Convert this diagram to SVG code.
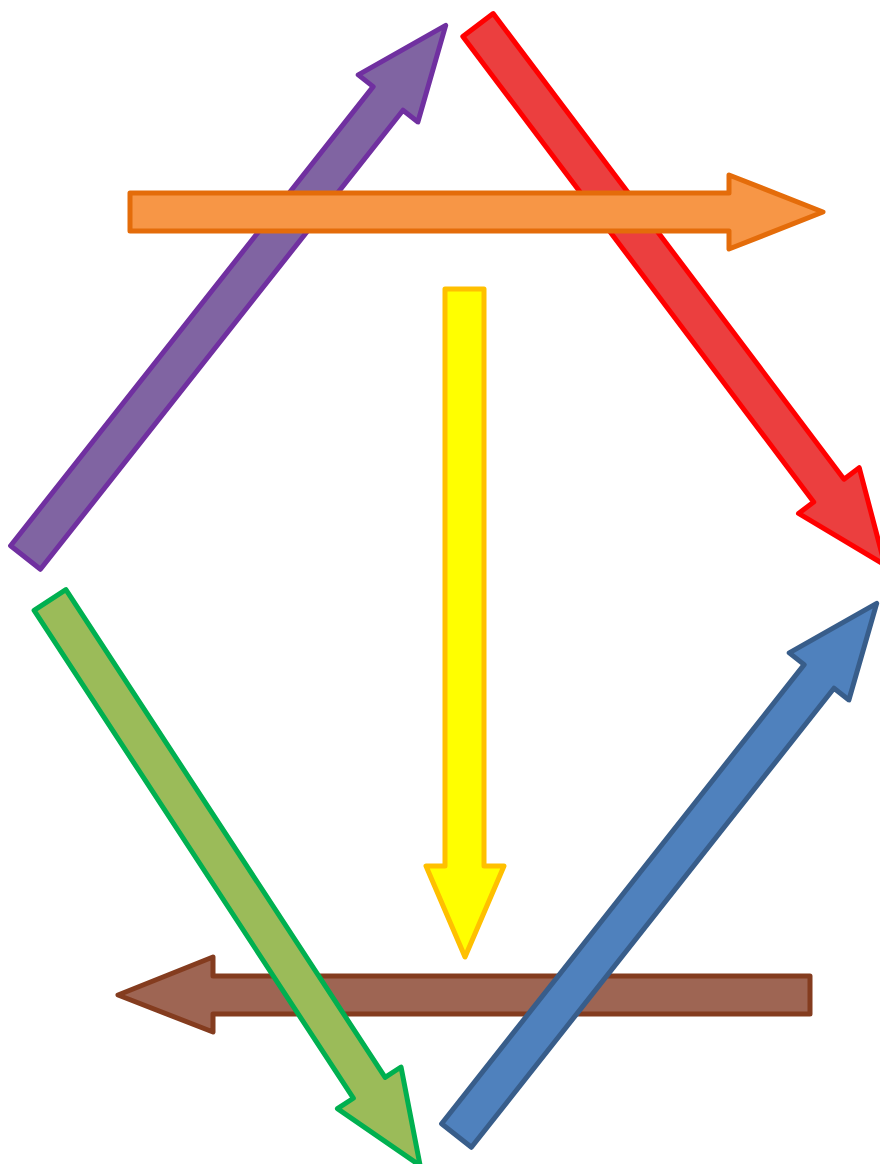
<svg xmlns="http://www.w3.org/2000/svg" width="880" height="1164" viewBox="0 0 880 1164">
  <style>
    .arr { stroke-width: 5; stroke-linejoin: round; }
    .purple { fill: #8064A2; stroke: #7030A0; }
    .red { fill: #EB3F3F; stroke: #FF0000; }
    .orange { fill: #F79646; stroke: #E46C0A; }
    .yellow { fill: #FFFF00; stroke: #FFC000; }
    .green { fill: #9BBB59; stroke: #00B050; }
    .blue { fill: #4F81BD; stroke: #385D8A; }
    .brown { fill: #9E6553; stroke: #843C1F; }
  </style>
  <rect width="880" height="1164" fill="#FFFFFF"/>
  <g id="arrow-purple">
    <path class="arr purple" transform="translate(25.5,557.5) rotate(-51.7)" d="M0,-19 H585 V-38 L678,0 L585,38 V19 H0 Z"/>
  </g>
  <g id="arrow-red">
    <path class="arr red" transform="translate(478,25) rotate(53)" d="M0,-19 H583 V-38 L676,0 L583,38 V19 H0 Z"/>
  </g>
  <g id="arrow-orange">
    <path class="arr orange" d="M130,193 H729 V175 L823,212 L729,249 V231 H130 Z"/>
  </g>
  <g id="arrow-yellow">
    <path class="arr yellow" d="M445,289 H484 V866 H504 L465,957 L426,866 H445 Z"/>
  </g>
  <g id="arrow-brown">
    <path class="arr brown" d="M810,976 H213 V957 L118,995 L213,1032 V1014 H810 Z"/>
  </g>
  <g id="arrow-green">
    <path class="arr green" transform="translate(50,600) rotate(56.8)" d="M0,-19 H583 V-38 L676,0 L583,38 V19 H0 Z"/>
  </g>
  <g id="arrow-blue">
    <path class="arr blue" transform="translate(456.5,1135.5) rotate(-51.7)" d="M0,-19 H585 V-38 L678,0 L585,38 V19 H0 Z"/>
  </g>
  <g id="connectors"/>
</svg>
